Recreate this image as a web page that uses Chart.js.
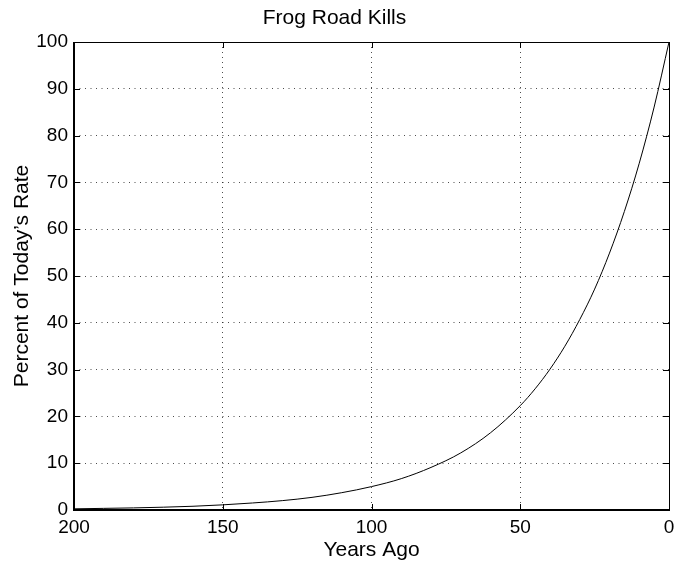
<!DOCTYPE html>
<html>
<head>
<meta charset="utf-8">
<script src="https://cdn.jsdelivr.net/npm/chart.js@4/dist/chart.umd.min.js"></script>
<style>
  html, body { margin: 0; padding: 0; background: #fff; }
  #wrap { width: 674px; height: 563px; }
</style>
</head>
<body>
<div id="wrap"><canvas id="frogChart" width="674" height="563"></canvas></div>
<script>
//
// Data
var years_ago = [200, 190, 180, 170, 160, 150, 140, 130, 120, 110, 100, 90, 80, 70, 60, 50, 45, 40, 35, 30, 25, 20, 15, 10, 5, 0];
var percent_rate = [0.25, 0.35, 0.45, 0.6, 0.8, 1.1, 1.5, 2.0, 2.7, 3.7, 5.0, 6.7, 9.1, 12.2, 16.5, 22.3, 25.9, 30.1, 35.0, 40.7, 47.2, 54.9, 63.8, 74.1, 86.1, 100];
var x_ticks = [200, 150, 100, 50, 0];
var y_ticks = [0, 10, 20, 30, 40, 50, 60, 70, 80, 90, 100];

var FONT = "'Liberation Sans', Arial, Helvetica, sans-serif";

//
// Box round the plot with inward ticks
var axesBox = {
    id: 'axesBox',
    afterDraw: function(chart) {
        var ctx = chart.ctx;
        var a = chart.chartArea;
        var xs = chart.scales.x;
        var ys = chart.scales.y;
        ctx.save();
        ctx.strokeStyle = '#000';
        ctx.lineWidth = 1;
        ctx.beginPath();
        x_ticks.forEach(function(v) {
            var px = Math.round(xs.getPixelForValue(v)) + 0.5;
            ctx.moveTo(px, a.bottom); ctx.lineTo(px, a.bottom - 6);
            ctx.moveTo(px, a.top); ctx.lineTo(px, a.top + 6);
        });
        y_ticks.forEach(function(v) {
            var py = Math.round(ys.getPixelForValue(v)) + 0.5;
            ctx.moveTo(a.left, py); ctx.lineTo(a.left + 6, py);
            ctx.moveTo(a.right, py); ctx.lineTo(a.right - 6, py);
        });
        ctx.stroke();
        // thin top and right
        ctx.beginPath();
        ctx.moveTo(a.left, Math.round(a.top) + 0.5);
        ctx.lineTo(Math.round(a.right) + 0.5, Math.round(a.top) + 0.5);
        ctx.lineTo(Math.round(a.right) + 0.5, a.bottom);
        ctx.stroke();
        // heavier left and bottom
        ctx.lineWidth = 2;
        ctx.beginPath();
        ctx.moveTo(Math.round(a.left), a.top);
        ctx.lineTo(Math.round(a.left), Math.round(a.bottom));
        ctx.lineTo(a.right + 1, Math.round(a.bottom));
        ctx.stroke();
        ctx.restore();
    }
};

var points = years_ago.map(function(yr, i) {
    return { x: yr, y: percent_rate[i] };
});

var ctx = document.getElementById('frogChart').getContext('2d');
new Chart(ctx, {
    type: 'line',
    data: {
        datasets: [{
            data: points,
            borderColor: '#000',
            borderWidth: 1,
            pointRadius: 0,
            fill: false,
            cubicInterpolationMode: 'monotone'
        }]
    },
    options: {
        responsive: false,
        animation: false,
        layout: { padding: { left: 0, right: 5, top: 0, bottom: 0 } },
        plugins: {
            legend: { display: false },
            tooltip: { enabled: false },
            title: {
                display: true,
                text: 'Frog Road Kills',
                color: '#000',
                font: { family: FONT, size: 21, weight: 'normal', lineHeight: 1.2 },
                padding: { top: 6, bottom: 10.8 }
            }
        },
        scales: {
            x: {
                type: 'linear',
                reverse: true,
                min: 0,
                max: 200,
                afterBuildTicks: function(scale) {
                    scale.ticks = x_ticks.map(function(v) { return { value: v }; });
                },
                afterFit: function(scale) {
                    scale.height = 53;
                    scale.paddingLeft = 0;
                    scale.paddingRight = 0;
                },
                ticks: {
                    color: '#000',
                    padding: 6,
                    maxRotation: 0,
                    font: { family: FONT, size: 19 }
                },
                grid: { color: 'rgba(0,0,0,0.7)', lineWidth: 1, drawTicks: false },
                border: { display: false, dash: [1, 4] },
                title: {
                    display: true,
                    text: 'Years Ago',
                    color: '#000',
                    font: { family: FONT, size: 21, lineHeight: 1.2 },
                    padding: { top: 0, bottom: 0 }
                }
            },
            y: {
                min: 0,
                max: 100,
                afterBuildTicks: function(scale) {
                    scale.ticks = y_ticks.map(function(v) { return { value: v }; });
                },
                afterFit: function(scale) {
                    scale.width = 74;
                    scale.paddingTop = 0;
                    scale.paddingBottom = 0;
                },
                ticks: {
                    color: '#000',
                    padding: 6,
                    font: { family: FONT, size: 19 }
                },
                grid: { color: 'rgba(0,0,0,0.7)', lineWidth: 1, drawTicks: false },
                border: { display: false, dash: [1, 4.5] },
                title: {
                    display: true,
                    text: "Percent of Today\u2019s Rate",
                    color: '#000',
                    font: { family: FONT, size: 21, lineHeight: 1.2 },
                    padding: { top: 10, bottom: 0 }
                }
            }
        }
    },
    plugins: [axesBox]
});
</script>
</body>
</html>
